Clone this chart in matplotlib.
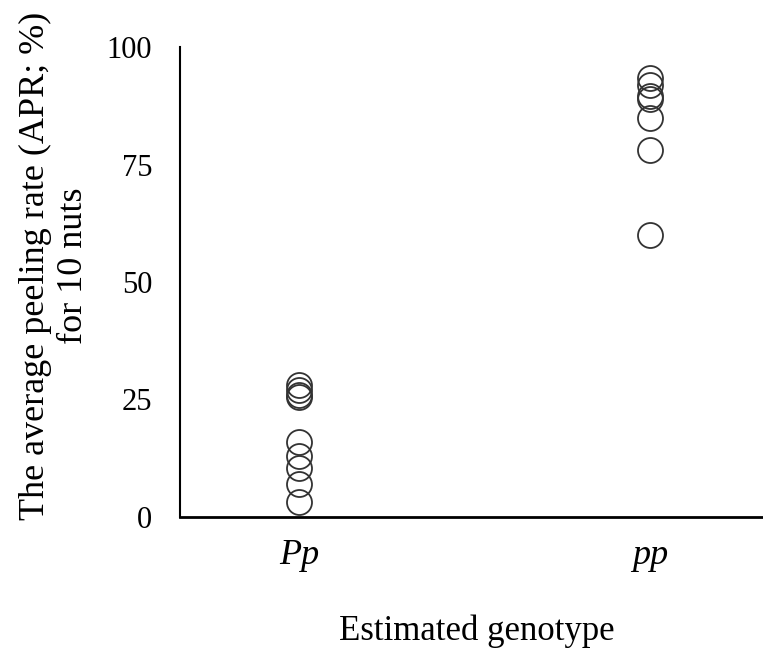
import matplotlib.pyplot as plt

plt.rcParams['font.family'] = ['Liberation Serif', 'DejaVu Serif']

genotypes = ['Pp', 'pp']
pp_het = [28, 27, 26, 25.5, 16, 13, 10.5, 7, 3.2]
pp_hom = [60, 78, 85, 89, 89.5, 92, 93.3]
yticks = [0, 25, 50, 75, 100]

fig = plt.figure(figsize=(7.63, 6.53), dpi=100)
ax = fig.add_axes([180/763, 1 - 517/653, (763-180)/763, 470/653])

ax.plot([1]*len(pp_het), pp_het, 'o', mfc='none', mec='#333333', ms=18, mew=1.3)
ax.plot([2]*len(pp_hom), pp_hom, 'o', mfc='none', mec='#333333', ms=18, mew=1.3)

ax.set_xlim(0.661, 2.322)
ax.set_ylim(0, 100)
ax.set_yticks(yticks)
ax.set_yticklabels([str(t) for t in yticks], fontsize=22)
ax.set_xticks([1, 2])
ax.set_xticklabels(genotypes, fontsize=26, style='italic')
ax.tick_params(axis='y', length=0, pad=20)
ax.tick_params(axis='x', length=0, pad=16)

for s in ['top', 'right']:
    ax.spines[s].set_visible(False)
ax.spines['left'].set_linewidth(1.5)
ax.spines['bottom'].set_linewidth(2)

ax.set_ylabel('The average peeling rate (APR; %)\nfor 10 nuts', fontsize=26, va='center')
ax.yaxis.set_label_coords(-0.216, 0.534)
ax.set_xlabel('Estimated genotype', fontsize=25, va='center')
ax.xaxis.set_label_coords(0.509, -0.243)

fig.savefig('out.png', dpi=100)
